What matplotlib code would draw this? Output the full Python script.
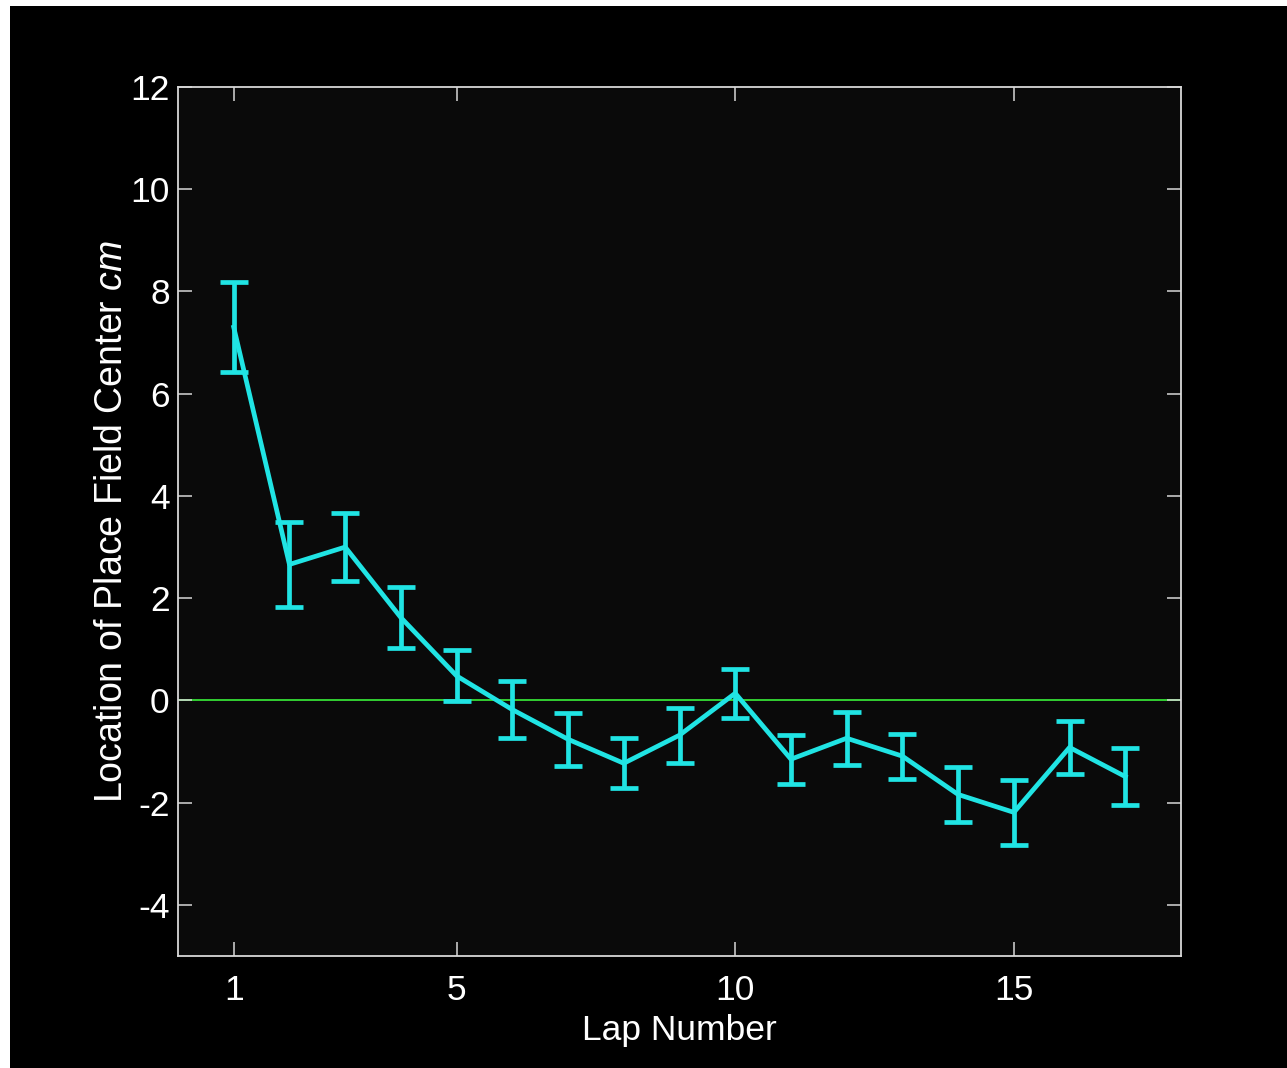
import matplotlib
matplotlib.use('Agg')
from matplotlib import pyplot as plt
from matplotlib.patches import Rectangle

plt.rcParams['font.family'] = ['Liberation Sans', 'DejaVu Sans']
plt.rcParams['mathtext.fontset'] = 'custom'
plt.rcParams['mathtext.it'] = 'Liberation Sans:italic'
plt.rcParams['mathtext.rm'] = 'Liberation Sans'

# lap number vs place field centre (cm), with error bars
laps = [1, 2, 3, 4, 5, 6, 7, 8, 9, 10, 11, 12, 13, 14, 15, 16, 17]
centers = [7.3, 2.66, 3.0, 1.62, 0.48, -0.18, -0.76, -1.23, -0.68, 0.14,
           -1.15, -0.74, -1.09, -1.84, -2.19, -0.92, -1.49]
errors = [0.88, 0.83, 0.66, 0.6, 0.5, 0.55, 0.52, 0.49, 0.54, 0.48,
          0.48, 0.52, 0.44, 0.53, 0.63, 0.51, 0.56]

x_ticks = [1, 5, 10, 15]
y_ticks = [-4, -2, 0, 2, 4, 6, 8, 10, 12]

fig = plt.figure(figsize=(12.87, 10.68), dpi=100)
fig.patch.set_facecolor('white')
# black canvas with thin white margin at top / left like the screenshot
fig.patches.append(Rectangle((10 / 1287, 0), 1, 1 - 6 / 1068,
                             transform=fig.transFigure, facecolor='black',
                             edgecolor='none', zorder=-10))

ax = fig.add_axes([178 / 1287, 1 - 956 / 1068, (1181 - 178) / 1287, (956 - 87) / 1068])
ax.set_facecolor('#0a0a0a')

ax.axhline(0, color='#33d033', lw=1.4, zorder=1)
ax.errorbar(laps, centers, yerr=errors, color='#20e4e4', lw=3.4,
            elinewidth=3.4, capsize=10, capthick=3.4, zorder=2)

ax.set_xlim(0, 18)
ax.set_ylim(-5, 12)
ax.set_xticks(x_ticks)
ax.set_yticks(y_ticks)
ax.set_yticklabels([str(v) for v in y_ticks])

for s in ax.spines.values():
    s.set_color('#d8d8d8')
    s.set_linewidth(1.3)
ax.tick_params(direction='in', length=10, width=1.1, color='#d8d8d8',
               labelcolor='white', labelsize=25.5, top=True, right=True)
ax.tick_params(axis='y', pad=6)
ax.tick_params(axis='x', pad=13)

ax.set_xlabel('Lap Number', color='white', fontsize=25.5, labelpad=5)
ax.set_ylabel(r'Location of Place Field Center $\mathit{cm}$', color='white',
              fontsize=27, labelpad=0)

fig.savefig('out.png', dpi=100, facecolor=fig.get_facecolor())
